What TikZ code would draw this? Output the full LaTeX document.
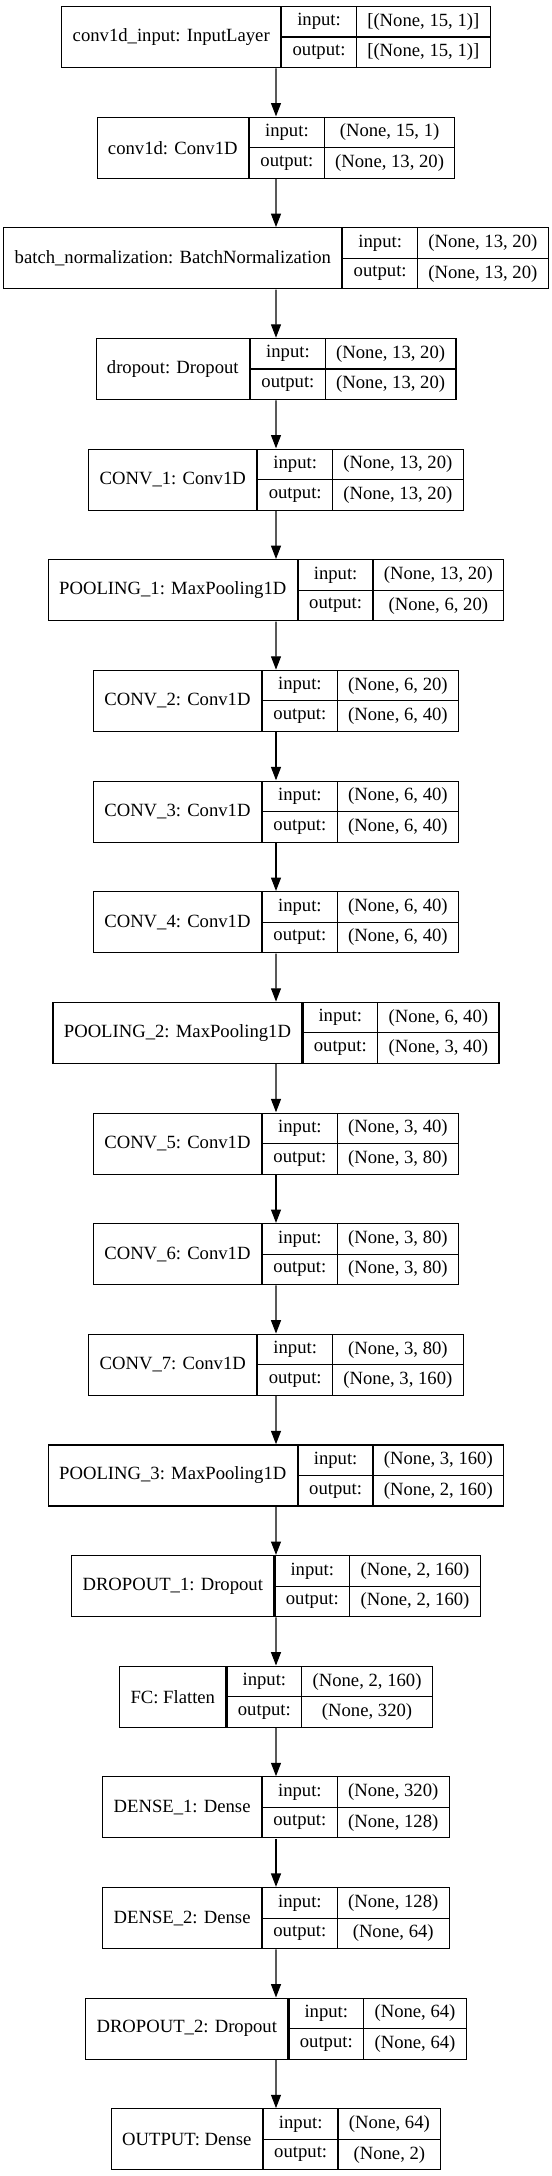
\documentclass[tikz,border=0pt]{standalone}
\usepackage{fontspec}
\setmainfont{Liberation Serif}
\usetikzlibrary{arrows.meta,fit}

\newcommand\lyrfont{\fontsize{14}{16}\selectfont}
\newdimen\lblw \newdimen\inw \newdimen\outw
% width of a text in the layer font (measured outside the picture's \nullfont)
\newcommand\lyrwd[2]{\setbox0=\hbox{\pgfinterruptpicture\lyrfont #2\endpgfinterruptpicture}#1=\wd0\relax}
\tikzset{
  cell/.style={draw, font=\lyrfont, inner sep=0pt, line width=0.8pt},
  keycell/.style={cell, anchor=north west, minimum width=56pt, minimum height=22.875pt},
  flow/.style={-{Triangle[length=10pt,width=7.5pt]}, line width=0.8pt}
}
% [#1 least label width], #2 name, #3 layer, #4 input shape, #5 output shape, #6 row
\newcommand\layer[6][0]{%
  \lyrwd\lblw{#3}\lyrwd\inw{#4}\lyrwd\outw{#5}%
  \pgfmathsetmacro\wl{max(\the\lblw+16.35,#1*0.75)}%
  \pgfmathsetmacro\wv{max(\the\inw,\the\outw)+16.35}%
  \pgfmathsetmacro\xk{276+((\wl-\wv)/0.75-74.7)/2}%
  \pgfmathsetmacro\yt{6+110.65*#6}%
  \node[keycell] (#2-ki) at (\xk,\yt) {input:};
  \node[keycell] (#2-ko) at (\xk,\yt+30.5) {output:};
  \node[cell, anchor=north east, minimum width=\wl pt, minimum height=45.75pt] (#2-l) at (\xk,\yt) {#3};
  \node[cell, anchor=north west, minimum width=\wv pt, minimum height=22.875pt] (#2-vi) at (\xk+74.7,\yt) {#4};
  \node[cell, anchor=north west, minimum width=\wv pt, minimum height=22.875pt] (#2-vo) at (\xk+74.7,\yt+30.5) {#5};
  \node[fit=(#2-l)(#2-vo), inner sep=0pt] (#2) {};
}

\begin{document}
\begin{tikzpicture}[x=0.75pt, y=-0.75pt]
\useasboundingbox (0,0) rectangle (552,2176);

\layer{in0}{conv1d\_input: InputLayer}{[(None, 15, 1)]}{[(None, 15, 1)]}{0}
\layer{conv1d}{conv1d: Conv1D}{(None, 15, 1)}{(None, 13, 20)}{1}
\layer[336.6]{bn}{batch\_normalization: BatchNormalization}{(None, 13, 20)}{(None, 13, 20)}{2}
\layer{drop}{dropout: Dropout}{(None, 13, 20)}{(None, 13, 20)}{3}
\layer{conv1}{CONV\_1: Conv1D}{(None, 13, 20)}{(None, 13, 20)}{4}
\layer{pool1}{POOLING\_1: MaxPooling1D}{(None, 13, 20)}{(None, 6, 20)}{5}
\layer{conv2}{CONV\_2: Conv1D}{(None, 6, 20)}{(None, 6, 40)}{6}
\layer{conv3}{CONV\_3: Conv1D}{(None, 6, 40)}{(None, 6, 40)}{7}
\layer{conv4}{CONV\_4: Conv1D}{(None, 6, 40)}{(None, 6, 40)}{8}
\layer{pool2}{POOLING\_2: MaxPooling1D}{(None, 6, 40)}{(None, 3, 40)}{9}
\layer{conv5}{CONV\_5: Conv1D}{(None, 3, 40)}{(None, 3, 80)}{10}
\layer{conv6}{CONV\_6: Conv1D}{(None, 3, 80)}{(None, 3, 80)}{11}
\layer{conv7}{CONV\_7: Conv1D}{(None, 3, 80)}{(None, 3, 160)}{12}
\layer{pool3}{POOLING\_3: MaxPooling1D}{(None, 3, 160)}{(None, 2, 160)}{13}
\layer{drop1}{DROPOUT\_1: Dropout}{(None, 2, 160)}{(None, 2, 160)}{14}
\layer{fc}{FC: Flatten}{(None, 2, 160)}{(None, 320)}{15}
\layer{dense1}{DENSE\_1: Dense}{(None, 320)}{(None, 128)}{16}
\layer{dense2}{DENSE\_2: Dense}{(None, 128)}{(None, 64)}{17}
\layer{drop2}{DROPOUT\_2: Dropout}{(None, 64)}{(None, 64)}{18}
\layer{out}{OUTPUT: Dense}{(None, 64)}{(None, 2)}{19}

\draw[flow] (in0.south) -- (conv1d.north);
\draw[flow] (conv1d.south) -- (bn.north);
\draw[flow] (bn.south) -- (drop.north);
\draw[flow] (drop.south) -- (conv1.north);
\draw[flow] (conv1.south) -- (pool1.north);
\draw[flow] (pool1.south) -- (conv2.north);
\draw[flow] (conv2.south) -- (conv3.north);
\draw[flow] (conv3.south) -- (conv4.north);
\draw[flow] (conv4.south) -- (pool2.north);
\draw[flow] (pool2.south) -- (conv5.north);
\draw[flow] (conv5.south) -- (conv6.north);
\draw[flow] (conv6.south) -- (conv7.north);
\draw[flow] (conv7.south) -- (pool3.north);
\draw[flow] (pool3.south) -- (drop1.north);
\draw[flow] (drop1.south) -- (fc.north);
\draw[flow] (fc.south) -- (dense1.north);
\draw[flow] (dense1.south) -- (dense2.north);
\draw[flow] (dense2.south) -- (drop2.north);
\draw[flow] (drop2.south) -- (out.north);
\end{tikzpicture}
\end{document}
